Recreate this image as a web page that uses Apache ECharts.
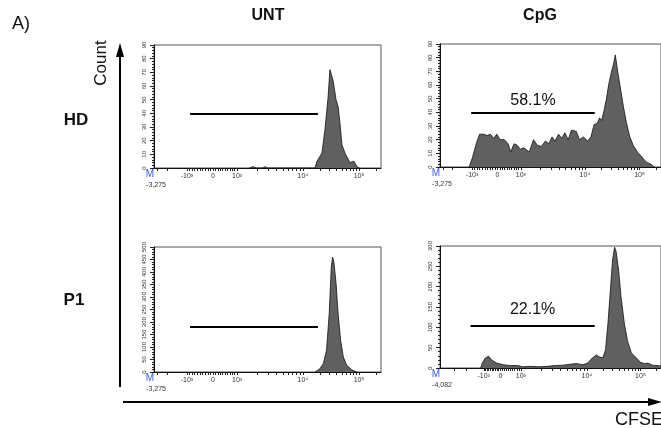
<!DOCTYPE html>
<html lang="en">
<head>
    <meta charset="UTF-8">
    <title>CFSE</title>
    <script src="https://cdn.jsdelivr.net/npm/echarts@6/dist/echarts.min.js"></script>
    <style>
        html, body { margin: 0; padding: 0; background: #fff; }
    </style>
</head>
<body>
    <div id="main" style="width: 661px; height: 428px;"></div>
    <script>
        // histogram data: [channel (0-1000 display scale), count]
        var hdUnt = [
            [420, 0], [436, 1], [450, 0], [480, 0], [489, 1], [500, 0],
            [709, 0], [718, 5], [740, 11], [753, 28], [767, 52], [775, 72], [780, 73],
            [789, 64], [802, 50], [811, 45], [819, 33], [828, 17], [841, 11], [863, 4],
            [881, 5], [894, 1], [905, 0]
        ];
        var hdCpg = [
            [132, 0], [147, 7], [164, 17], [179, 24], [199, 24], [213, 23], [228, 24],
            [242, 21], [257, 24], [272, 20], [291, 20], [308, 17], [320, 11], [335, 17],
            [349, 16], [364, 13], [379, 14], [404, 11], [423, 20], [440, 16], [458, 15],
            [477, 19], [492, 17], [507, 22], [521, 19], [536, 24], [551, 21], [565, 25],
            [580, 20], [595, 27], [617, 26], [631, 20], [649, 22], [668, 19], [683, 22],
            [697, 31], [712, 32], [722, 36], [731, 34], [742, 41], [752, 49], [764, 61],
            [775, 69], [786, 76], [793, 82], [797, 78], [805, 69], [815, 59], [830, 44],
            [844, 32], [859, 22], [874, 16], [893, 11], [910, 8], [925, 5], [940, 3],
            [955, 2], [969, 0]
        ];
        var p1Unt = [
            [709, 0], [731, 13], [746, 34], [760, 87], [772, 235], [781, 422], [787, 460],
            [793, 436], [802, 355], [811, 235], [822, 127], [834, 60], [849, 27],
            [871, 9], [893, 0]
        ];
        var p1Cpg = [
            [184, 0], [191, 12], [206, 25], [220, 29], [235, 19], [257, 12], [286, 8],
            [316, 6], [352, 6], [374, 3], [411, 4], [448, 3], [485, 4], [521, 6],
            [558, 7], [587, 9], [617, 11], [646, 8], [668, 12], [690, 25], [708, 32],
            [722, 27], [737, 25], [749, 45], [760, 110], [771, 192], [781, 266],
            [790, 297], [797, 286], [808, 241], [819, 176], [834, 110], [849, 65],
            [866, 37], [888, 25], [907, 14], [925, 11], [940, 12], [962, 7], [1000, 5]
        ];

        var histograms = [hdUnt, hdCpg, p1Unt, p1Cpg];
        // gate: [start channel, end channel, count level]
        var gates = [[159, 722, 40], [141, 700, 40], [159, 722, 180], [138, 700, 105]];
        var gateText = ['', '58.1%', '', '22.1%'];
        var yMax = [90, 90, 500, 300];
        var yStep = [10, 10, 50, 50];
        var xMinText = ['-3,275', '-3,275', '-3,275', '-4,082'];

        // channel positions of -10^3, 0, 10^3, 10^4, 10^5
        var decadePos = [
            [145, 260, 366, 656, 903],
            [145, 260, 366, 656, 903],
            [145, 260, 366, 656, 903],
            [198, 273, 366, 665, 907]
        ];
        var negPos = [[13, 57], [13, 57], [13, 57], [66, 119]];
        var decadeLabels = ['-10³', '0', '10³', '10⁴', '10⁵'];

        var rects = [
            { left: 154, top: 45, width: 227, height: 123 },
            { left: 440, top: 44, width: 227, height: 123 },
            { left: 154, top: 247, width: 227, height: 125 },
            { left: 440, top: 246, width: 227, height: 122 }
        ];

        function tickList(i) {
            var d = decadePos[i];
            var t = negPos[i].slice();
            for (var k = 0; k < 10; k++) {
                t.push(d[0] + (d[1] - d[0]) * k / 10);
                t.push(d[1] + (d[2] - d[1]) * k / 10);
            }
            for (var m = 1; m < 10; m++) {
                t.push(d[2] + (d[3] - d[2]) * Math.log10(m));
                t.push(d[3] + (d[4] - d[3]) * Math.log10(m));
            }
            t.push(d[4]);
            t.push(d[4] + (d[4] - d[3]) * Math.log10(2));
            return t;
        }

        var grids = [], xAxes = [], yAxes = [], series = [];
        histograms.forEach(function (h, i) {
            var r = rects[i];
            grids.push({
                left: r.left, top: r.top, width: r.width, height: r.height,
                show: true, borderColor: '#555', borderWidth: 1, backgroundColor: 'transparent'
            });
            xAxes.push({
                type: 'value', gridIndex: i, min: 0, max: 1000,
                axisLine: { lineStyle: { color: '#111', width: 1 } },
                axisTick: { show: true, customValues: tickList(i), length: 3, lineStyle: { color: '#222' } },
                axisLabel: {
                    customValues: decadePos[i], fontSize: 7, color: '#333', margin: 5,
                    fontFamily: 'Liberation Sans',
                    formatter: function (v) {
                        var idx = decadePos[i].indexOf(v);
                        return idx >= 0 ? decadeLabels[idx] : '';
                    }
                },
                splitLine: { show: false }
            });
            yAxes.push({
                type: 'value', gridIndex: i, min: 0, max: yMax[i], interval: yStep[i],
                axisLine: { show: true, lineStyle: { color: '#111', width: 1 } },
                axisTick: { show: true, length: 4, lineStyle: { color: '#222' } },
                minorTick: { show: true, splitNumber: 5, length: 2, lineStyle: { color: '#222' } },
                axisLabel: { rotate: 90, fontSize: 6, color: '#333', margin: 7, fontFamily: 'Liberation Sans' },
                splitLine: { show: false }
            });
            var g = gates[i];
            series.push({
                type: 'line', xAxisIndex: i, yAxisIndex: i, data: h,
                symbol: 'none', silent: true,
                lineStyle: { color: '#111', width: 0.8 },
                areaStyle: { color: '#606060', opacity: 1 },
                markLine: {
                    silent: true, symbol: 'none', animation: false,
                    lineStyle: { color: '#000', width: 2, type: 'solid' },
                    label: {
                        show: gateText[i] !== '', formatter: gateText[i], position: 'insideMiddleTop',
                        distance: i === 1 ? 4 : 8,
                        fontSize: 16, color: '#111', fontFamily: 'Liberation Sans'
                    },
                    data: [[{ coord: [g[0], g[2]] }, { coord: [g[1], g[2]] }]]
                }
            });
        });

        var graphics = [
            { type: 'text', x: 12, y: 24, style: { text: 'A)', font: '18px Liberation Sans', fill: '#111', verticalAlign: 'middle' } },
            { type: 'text', x: 268, y: 16, style: { text: 'UNT', font: 'bold 16px Liberation Sans', fill: '#111', align: 'center', verticalAlign: 'middle' } },
            { type: 'text', x: 540, y: 16, style: { text: 'CpG', font: 'bold 16px Liberation Sans', fill: '#111', align: 'center', verticalAlign: 'middle' } },
            { type: 'text', x: 76, y: 120, style: { text: 'HD', font: 'bold 17px Liberation Sans', fill: '#111', align: 'center', verticalAlign: 'middle' } },
            { type: 'text', x: 74, y: 300, style: { text: 'P1', font: 'bold 17px Liberation Sans', fill: '#111', align: 'center', verticalAlign: 'middle' } },
            { type: 'text', x: 101, y: 63, rotation: Math.PI / 2, style: { text: 'Count', font: '17px Liberation Sans', fill: '#111', align: 'center', verticalAlign: 'middle' } },
            { type: 'line', shape: { x1: 120, y1: 387, x2: 120, y2: 52 }, style: { stroke: '#000', lineWidth: 2 } },
            { type: 'polygon', shape: { points: [[120, 43], [116, 57], [124, 57]] }, style: { fill: '#000' } },
            { type: 'line', shape: { x1: 123, y1: 402, x2: 652, y2: 402 }, style: { stroke: '#000', lineWidth: 2 } },
            { type: 'polygon', shape: { points: [[662, 402], [648, 398], [648, 406]] }, style: { fill: '#000' } },
            { type: 'text', x: 663, y: 420, style: { text: 'CFSE', font: '18px Liberation Sans', fill: '#111', align: 'right', verticalAlign: 'middle' } }
        ];
        rects.forEach(function (r, i) {
            var bottom = r.top + r.height;
            graphics.push({ type: 'text', x: r.left - 4, y: bottom + 6, style: { text: 'M', font: '10px Liberation Sans', fill: '#3a5bff', align: 'center', verticalAlign: 'middle' } });
            graphics.push({ type: 'text', x: r.left + 2, y: bottom + 17, style: { text: xMinText[i], font: '7px Liberation Sans', fill: '#333', align: 'center', verticalAlign: 'middle' } });
        });

        var chart = echarts.init(document.getElementById('main'));
        chart.setOption({
            animation: false,
            backgroundColor: '#fff',
            grid: grids,
            xAxis: xAxes,
            yAxis: yAxes,
            series: series,
            graphic: graphics
        });
    </script>
</body>
</html>
